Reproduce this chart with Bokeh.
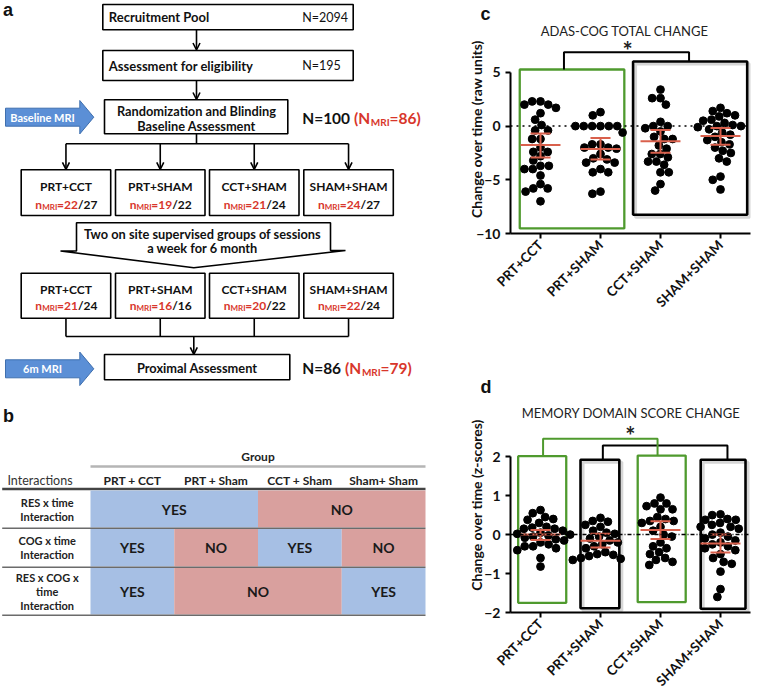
import math
from bokeh.plotting import figure
from bokeh.models import Range1d, Arrow, OpenHead, FixedTicker, Span
from bokeh.layouts import row, column
from bokeh.core.properties import value
from bokeh.embed import file_html
from bokeh.resources import INLINE

# ---------------- data ----------------
flow_steps = ["Recruitment Pool", "Assessment for eligibility"]
flow_N = [2094, 195]
N_random, N_random_mri = 100, 86
N_final, N_final_mri = 86, 79
groups = ["PRT+CCT", "PRT+SHAM", "CCT+SHAM", "SHAM+SHAM"]
baseline_mri = [22, 19, 21, 24]
baseline_n = [27, 22, 24, 27]
followup_mri = [21, 16, 20, 22]
followup_n = [24, 16, 22, 24]

table_cols = ["PRT + CCT", "PRT + Sham", "CCT + Sham", "Sham+ Sham"]
table_rows = [["RES x time", "Interaction"], ["COG x time", "Interaction"],
              ["RES x COG x", "time", "Interaction"]]
table_vals = [["YES", "YES", "NO", "NO"],
              ["YES", "NO", "YES", "NO"],
              ["YES", "NO", "NO", "YES"]]

adas_prt_cct = [2.3, 2.3, 2.0, 2.0, 1.7, 1.2, 0.6, 0.1, -0.4, -0.4, -1.2, -1.2, -2.0, -2.4,
                -2.4, -2.8, -3.2, -3.7, -3.7, -4.0, -4.0, -4.6, -5.4, -5.8, -5.8, -6.1, -7.0]
adas_prt_sham = [1.3, 1.0, 0, 0, 0, 0, 0, 0, -0.6, -1.7, -1.7, -2.0, -2.0, -2.1, -2.6, -3.0,
                 -3.1, -3.4, -3.4, -4.0, -4.3, -4.3, -6.1, -6.3]
adas_cct_sham = [3.4, 2.6, 2.6, 2.0, 0.4, 0.0, 0.0, -0.2, -0.5, -1.0, -1.2, -1.2, -1.8, -2.1,
                 -2.6, -2.6, -2.9, -3.3, -3.3, -3.6, -4.3, -4.3, -5.4, -6.0]
adas_sham_sham = [1.7, 1.4, 1.2, 1.0, 0.9, 0.6, 0.5, 0.3, 0.1, 0.0, 0.0, -0.1, -0.3, -0.6, -0.8,
                  -1.0, -1.3, -1.5, -1.7, -2.0, -2.3, -2.5, -3.0, -3.3, -4.7, -5.0, -5.9]
adas_mean = [-1.76, -2.14, -1.42, -0.92]
adas_hi = [-0.68, -1.11, -0.37, -0.18]
adas_lo = [-2.92, -3.10, -2.48, -1.73]

mem_prt_cct = [0.63, 0.55, 0.45, 0.40, 0.38, 0.30, 0.20, 0.18, 0.15, 0.15, 0.10, 0.05, 0.02, 0.0,
               -0.02, -0.05, -0.08, -0.12, -0.15, -0.2, -0.25, -0.3, -0.3, -0.35, -0.4, -0.6, -0.82]
mem_prt_sham = [0.43, 0.35, 0.33, 0.25, 0.2, 0.1, 0.05, 0.02, -0.05, -0.1, -0.15, -0.2, -0.25,
                -0.3, -0.35, -0.45, -0.5, -0.52, -0.55, -0.6, -0.62, -0.65]
mem_cct_sham = [0.95, 0.8, 0.8, 0.73, 0.65, 0.65, 0.45, 0.4, 0.35, 0.35, 0.3, 0.2, 0.1, 0.0,
                -0.05, -0.2, -0.3, -0.35, -0.45, -0.5, -0.6, -0.65, -0.7, -0.78]
mem_sham_sham = [0.52, 0.5, 0.4, 0.38, 0.38, 0.3, 0.25, 0.2, 0.2, 0.15, 0.05, 0.0, -0.05, -0.1,
                 -0.15, -0.2, -0.25, -0.3, -0.35, -0.4, -0.5, -0.6, -0.7, -0.75, -0.95, -1.4, -1.6]
mem_mean = [0.0, -0.16, 0.12, -0.23]
mem_hi = [0.12, 0.02, 0.34, 0.0]
mem_lo = [-0.14, -0.33, -0.11, -0.46]

# ---------------- style ----------------
FONT = "Lato"
RED = "#d8362b"
INK = "#111111"
BLUE_CELL = "#a6bfe4"
RED_CELL = "#d9a09e"
GREEN = "#4f9a2e"
MEAN_RED = "#d9604c"


def tw(s, size):
    W = {'M': 0.92, 'R': 0.64, 'I': 0.30, 'N': 0.76, 'n': 0.57, '=': 0.58, '/': 0.39,
         '(': 0.33, ')': 0.33, ' ': 0.26}
    return sum(W.get(ch, 0.58) for ch in s) * size


def txt(fig, x, y, s, size=12, color=INK, align="center", style="bold", baseline="middle",
        font=FONT, angle=0):
    fig.text(x=[x], y=[y], text=[s], text_font=value(font), text_font_size=f"{size}px",
             text_font_style=style, text_color=color, text_align=align,
             text_baseline=baseline, angle=angle)


def rich(fig, x, yc, parts, align="left"):
    main = parts[0][1]
    base = yc + 0.36 * main - 4.6
    total = sum(tw(t, s) for t, s, _, _ in parts)
    x0 = x - total / 2 if align == "center" else x
    for t, s, col, dy in parts:
        fig.text(x=[x0], y=[base + dy], text=[t], text_font=value(FONT),
                 text_font_size=f"{s}px", text_font_style="bold", text_color=col,
                 text_align="left", text_baseline="alphabetic")
        x0 += tw(t, s)


def arrow(fig, x0, y0, x1, y1):
    fig.add_layout(Arrow(end=OpenHead(size=7, line_width=1.6, line_color="black"),
                         x_start=x0, y_start=y0, x_end=x1, y_end=y1,
                         line_width=1.6, line_color="black"))


# ---------------- left panel (a + b) ----------------
L = figure(width=465, height=699, x_range=Range1d(0, 465), y_range=Range1d(699, 0),
           x_axis_type=None, y_axis_type=None, output_backend="svg",
           toolbar_location=None, min_border=0)
L.outline_line_color = None

txt(L, 2.5, 9.5, "a", size=18, font="Liberation Sans", align="left")

top_boxes = [(102.3, 352.7, 4, 29.3), (102.3, 352.7, 50, 80)]
for (l, r, t, b), name, n in zip(top_boxes, flow_steps, flow_N):
    L.quad(left=[l], right=[r], top=[t], bottom=[b], fill_color="white",
           line_color="black", line_width=1.6)
    txt(L, l + 6, (t + b) / 2, name, size=13, align="left")
    txt(L, 301.7, (t + b) / 2, f"N={n}", size=12.5, align="left", style="normal")
arrow(L, 196, 29.3, 196, 49.5)
arrow(L, 196, 80, 196, 99)

L.quad(left=[104], right=[287.3], top=[99.3], bottom=[133.3], fill_color="white",
       line_color="black", line_width=1.6)
txt(L, 196, 110.5, "Randomization and Blinding", size=12.8)
txt(L, 196, 125, "Baseline Assessment", size=12.8)
rich(L, 301.7, 116.7, [(f"N={N_random} ", 15.5, INK, 0), ("(N", 15.5, RED, 0),
                       ("MRI", 10, RED, 4), (f"={N_random_mri})", 15.5, RED, 0)])


def blue_arrow(yc, label):
    xs = [5, 79.3, 79.3, 93.3, 79.3, 79.3, 5]
    ys = [yc - 9, yc - 9, yc - 16.7, yc, yc + 16.7, yc + 9, yc + 9]
    L.patch(xs, ys, fill_color="#5b8fd6", line_color="#3f6fae", line_width=1)
    txt(L, 42, yc, label, size=11, color="white")


blue_arrow(116.7, "Baseline MRI")
blue_arrow(368.3, "6m MRI")

box_l = [20.7, 115, 209, 303.3]
box_w = 89.5
cx = [l + box_w / 2 for l in box_l]
L.multi_line(xs=[[196, 196], [cx[0], cx[-1]]], ys=[[133.3, 143.3], [143.3, 143.3]],
             line_color="black", line_width=1.6)
for x in cx:
    arrow(L, x, 143.3, x, 168.8)


def group_row(top, bottom, y_name, y_n, mri, tot):
    L.quad(left=box_l, right=[l + box_w for l in box_l], top=[top] * 4, bottom=[bottom] * 4,
           fill_color="white", line_color="black", line_width=1.6)
    for x, g, m, n in zip(cx, groups, mri, tot):
        txt(L, x, y_name, g, size=12)
        rich(L, x, y_n, [("n", 12, RED, 0), ("MRI", 8, RED, 3), (f"={m}", 12, RED, 0),
                         (f"/{n}", 12, INK, 0)], align="center")


group_row(169.3, 215, 186, 204, baseline_mri, baseline_n)

L.patch([76, 330, 330, 345, 193.3, 60, 76], [222.3, 222.3, 250, 250, 267.3, 250.5, 250.5],
        fill_color="white", line_color="black", line_width=1.6)
txt(L, 202, 233, "Two on site supervised groups of sessions", size=12.8)
txt(L, 202, 247, "a week for 6 month", size=12.8)

group_row(272.7, 317.7, 289, 305, followup_mri, followup_n)
L.multi_line(xs=[[x, x] for x in cx] + [[cx[0], cx[-1]]],
             ys=[[317.7, 336]] * 4 + [[336, 336]], line_color="black", line_width=1.6)
arrow(L, 193.3, 336, 193.3, 353.8)

L.quad(left=[104], right=[289.3], top=[354], bottom=[379.3], fill_color="white",
       line_color="black", line_width=1.6)
txt(L, 196.7, 367, "Proximal Assessment", size=12.8)
rich(L, 301.7, 367, [(f"N={N_final} ", 15.5, INK, 0), ("(N", 15.5, RED, 0),
                     ("MRI", 10, RED, 4), (f"={N_final_mri})", 15.5, RED, 0)])

# ---------------- table (b) ----------------
txt(L, 2.5, 415, "b", size=18, font="Liberation Sans", align="left")
col_edges = [90, 173.75, 257.5, 341.25, 425]
col_c = [(col_edges[i] + col_edges[i + 1]) / 2 for i in range(4)]
txt(L, 257.5, 456, "Group", size=12, color="#222")
L.line([90, 425], [466, 466], line_color="#b5b5b5", line_width=2.5)
txt(L, 39.5, 479.5, "Interactions", size=12.5, style="normal", color="#333")
for x, h in zip(col_c, table_cols):
    txt(L, x, 479.5, h, size=12, color="#222")
L.line([1.7, 425], [488.5, 488.5], line_color="#444444", line_width=2.5)

row_edges = [(490, 527), (528.5, 566), (567.5, 614)]
for (t, b), vals, lab in zip(row_edges, table_vals, table_rows):
    c0 = 0
    while c0 < 4:
        e = c0
        while e + 1 < 4 and vals[e + 1] == vals[c0]:
            e += 1
        col = BLUE_CELL if vals[c0] == "YES" else RED_CELL
        L.quad(left=[col_edges[c0]], right=[col_edges[e + 1]], top=[t], bottom=[b],
               fill_color=col, line_color=None)
        txt(L, (col_edges[c0] + col_edges[e + 1]) / 2, (t + b) / 2, vals[c0], size=14,
            color="#1a1a1a")
        c0 = e + 1
    n = len(lab)
    mid = (t + b) / 2
    for i, s in enumerate(lab):
        txt(L, 46.7, mid + (i - (n - 1) / 2) * 14, s, size=11, color="#222")
    L.line([1.7, 425], [b + 0.8, b + 0.8], line_color="#6b6b6b", line_width=1.5)


# ---------------- dot plots ----------------
def swarm(vals, ppy, ppx, d=8.4):
    order = sorted(range(len(vals)), key=lambda i: -vals[i])
    placed = []
    offs = [0.0] * len(vals)
    for i in order:
        yp = vals[i] * ppy
        cands = [0.0]
        for xj, yj in placed:
            dy = abs(yp - yj)
            if dy < d:
                dx = math.sqrt(d * d - dy * dy)
                cands += [xj + dx, xj - dx]
        cands.sort(key=lambda c: (abs(c), c))
        best = 0.0
        for cnd in cands:
            if all((cnd - xj) ** 2 + (yp - yj) ** 2 >= d * d - 1e-6 for xj, yj in placed):
                best = cnd
                break
        placed.append((best, yp))
        offs[i] = best / ppx
    return offs


PPX = 60.25
TOP = 24


def dot_panel(height, frame_h, yr, series, mean, lo, hi, yticks, ybounds, ylabel, ylab_standoff,
              title, title_pos, panel_lab, zero_dash, boxes, brackets, star_pos):
    ppy = frame_h / (yr[1] - yr[0])
    p = figure(width=292, height=height, x_range=Range1d(0.5, 4.5), y_range=Range1d(*yr),
               output_backend="svg", toolbar_location=None, min_border_left=44,
               min_border_right=7, min_border_top=TOP,
               min_border_bottom=height - frame_h - TOP)
    p.outline_line_color = None
    p.grid.visible = False
    p.title.text = panel_lab
    p.title.align = "left"
    p.title.offset = -30
    p.title.standoff = 2
    p.title.text_font = "Liberation Sans"
    p.title.text_font_size = "18px"
    p.title.text_font_style = "bold"
    p.title.text_color = "#111"
    for (l, r, b, t, col) in boxes:
        if col == "black":
            p.quad(left=[l + 2.5 / PPX], right=[r + 2.5 / PPX], top=[t - 2.5 / ppy],
                   bottom=[b - 2.5 / ppy], fill_color=None, line_color="#d6d6d6", line_width=3)
    for (l, r, b, t, col) in boxes:
        p.quad(left=[l], right=[r], top=[t], bottom=[b], fill_color=None,
               line_color=(GREEN if col == "green" else "black"),
               line_width=(2.3 if col == "green" else 2.6))
    for (x0, x1, y, yl, yr_, col) in brackets:
        p.line([x0, x0, x1, x1], [yl, y, y, yr_],
               line_color=(GREEN if col == "green" else "black"), line_width=2)
    p.add_layout(Span(location=0, dimension="width", line_color="black", line_width=1.5,
                      line_dash=zero_dash))
    for g, vals in enumerate(series, start=1):
        offs = swarm(vals, ppy, PPX)
        p.scatter(x=[g + o for o in offs], y=vals, size=7.8, marker="circle",
                  fill_color="black", line_color="black")
    gx = [1, 2, 3, 4]
    p.segment(x0=[g - 0.333 for g in gx], x1=[g + 0.333 for g in gx], y0=mean, y1=mean,
              line_color=MEAN_RED, line_width=2)
    p.segment(x0=gx, x1=gx, y0=lo, y1=hi, line_color=MEAN_RED, line_width=2)
    p.segment(x0=[g - 0.167 for g in gx] * 2, x1=[g + 0.167 for g in gx] * 2,
              y0=lo + hi, y1=lo + hi, line_color=MEAN_RED, line_width=2)
    txt(p, title_pos[0], title_pos[1], title, size=13, style="normal", color="#222")
    txt(p, star_pos[0], star_pos[1], "*", size=24, color="#222")
    xa = p.xaxis[0]
    xa.ticker = FixedTicker(ticks=gx)
    xa.major_label_overrides = {i + 1: g for i, g in enumerate(groups)}
    xa.major_label_orientation = math.pi / 4
    xa.major_label_text_font = FONT
    xa.major_label_text_font_style = "bold"
    xa.major_label_text_font_size = "13.5px"
    xa.major_label_text_color = INK
    xa.major_label_standoff = 4
    ya = p.yaxis[0]
    ya.ticker = FixedTicker(ticks=yticks)
    ya.bounds = ybounds
    ya.major_label_text_font = FONT
    ya.major_label_text_font_style = "bold"
    ya.major_label_text_font_size = "14px"
    ya.major_label_text_color = INK
    ya.major_label_standoff = 5
    ya.axis_label = ylabel
    ya.axis_label_text_font = FONT
    ya.axis_label_text_font_style = "bold"
    ya.axis_label_text_font_size = "14px"
    ya.axis_label_text_color = INK
    ya.axis_label_standoff = ylab_standoff
    for a in (xa, ya):
        a.axis_line_width = 2
        a.axis_line_color = "black"
        a.major_tick_line_width = 2
        a.major_tick_out = 5
        a.major_tick_in = 0
        a.minor_tick_line_color = None
    return p


C = dot_panel(373, 209, (-10, 9.46),
              [adas_prt_cct, adas_prt_sham, adas_cct_sham, adas_sham_sham],
              adas_mean, adas_lo, adas_hi, [-10, -5, 0, 5], (-10, 5),
              "Change over time (raw units)", -12,
              "ADAS-COG TOTAL CHANGE", (2.405, 8.83),
              "c", "dotted",
              [(0.654, 2.397, -9.53, 5.27, "green"), (2.543, 4.445, -8.26, 6.01, "black")],
              [(1.391, 3.476, 6.88, 5.27, 6.01, "black")], (2.45, 7.05))

D = dot_panel(326, 215, (-2, 3.52),
              [mem_prt_cct, mem_prt_sham, mem_cct_sham, mem_sham_sham],
              mem_mean, mem_lo, mem_hi, [-2, -1, 0, 1, 2], (-2, 2),
              "Change over time (z-scores)", -4,
              "MEMORY DOMAIN SCORE CHANGE", (2.508, 3.117),
              "d", "4 2 1 2",
              [(0.628, 1.429, -1.751, 2.013, "green"), (1.667, 2.314, -1.89, 1.92, "black"),
               (2.62, 3.42, -1.736, 2.03, "green"), (3.67, 4.417, -1.905, 1.92, "black")],
              [(2.039, 4.116, 2.288, 1.92, 1.92, "black"),
               (1.043, 2.951, 2.46, 2.013, 2.03, "green")],
              (2.497, 2.537))

layout = row(L, column(C, D, spacing=0), spacing=0)
open("out.html", "w").write(file_html(layout, INLINE))
